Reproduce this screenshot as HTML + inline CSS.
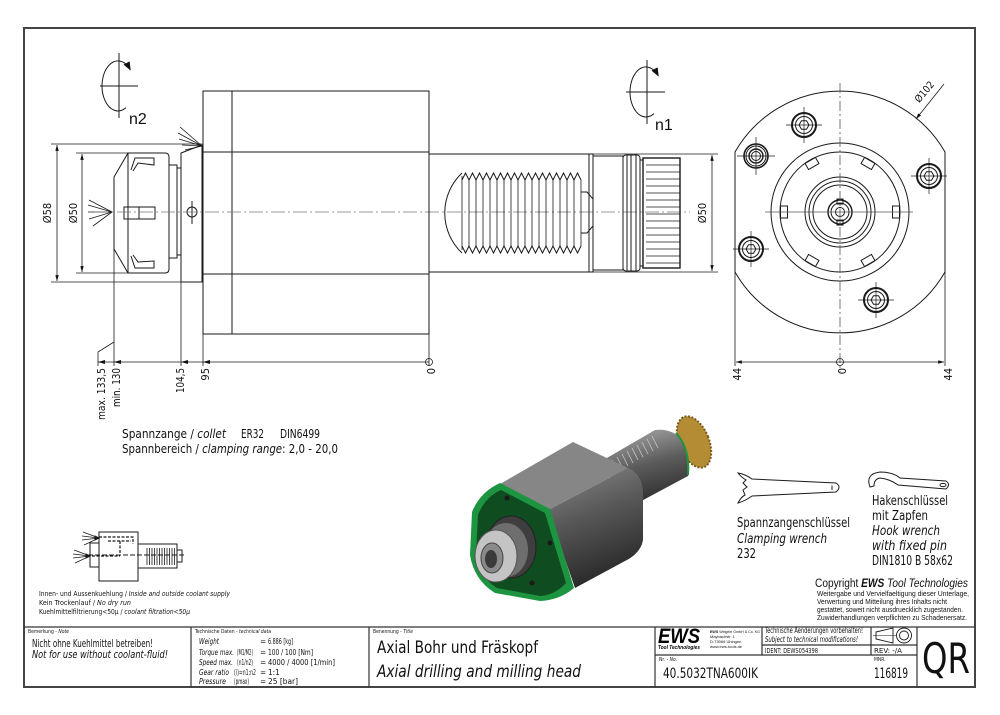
<!DOCTYPE html>
<html><head><meta charset="utf-8"><style>
html,body{margin:0;padding:0;background:#fff;}
svg{display:block}
.t{font-family:"DejaVu Sans Condensed","Liberation Sans Narrow","DejaVu Sans",sans-serif;fill:#111}
.l{font-family:"Liberation Sans",sans-serif;fill:#111}
.i{font-style:italic}
</style></head><body>
<svg width="1000" height="715" viewBox="0 0 1000 715" xmlns="http://www.w3.org/2000/svg">
<defs>
<marker id="a" viewBox="0 0 10 6" refX="10" refY="3" markerWidth="7" markerHeight="3.5" orient="auto-start-reverse" markerUnits="userSpaceOnUse"><path d="M0,0 L10,3 L0,6z" fill="#111"/></marker>
<marker id="r" viewBox="0 0 10 8" refX="9" refY="4" markerWidth="9" markerHeight="7" orient="auto" markerUnits="userSpaceOnUse"><path d="M0,0 L10,4 L0,8z" fill="#111"/></marker>
<linearGradient id="gbody" x1="0" y1="0" x2="0.3" y2="1"><stop offset="0" stop-color="#8a8a8a"/><stop offset="0.45" stop-color="#5a5a5a"/><stop offset="1" stop-color="#2a2a2a"/></linearGradient>
<linearGradient id="gshaft" x1="0.2" y1="0" x2="0.5" y2="1"><stop offset="0" stop-color="#a8a8a8"/><stop offset="0.5" stop-color="#5c5c5c"/><stop offset="1" stop-color="#2c2c2c"/></linearGradient>
</defs>
<rect width="1000" height="715" fill="#fff"/>

<!-- frame -->
<rect x="24" y="28" width="951" height="659" fill="none" stroke="#444" stroke-width="2"/>

<g fill="none" stroke="#1a1a1a" stroke-width="1">
<!-- n2 symbol -->
<line x1="119" y1="53" x2="119" y2="118"/>
<line x1="100" y1="86" x2="138" y2="86"/>
<path d="M126,107.6 A16,25 0 1 1 130.3,69.9" marker-end="url(#r)"/>
<!-- n1 symbol -->
<line x1="647" y1="60" x2="647" y2="124"/>
<line x1="626" y1="92" x2="665" y2="92"/>
<path d="M654,113.6 A16,25 0 1 1 658.3,75.9" marker-end="url(#r)"/>

<!-- body -->
<rect x="203" y="91" width="226" height="243"/>
<line x1="232" y1="91" x2="232" y2="334"/>
<line x1="203" y1="152" x2="429" y2="152"/>
<line x1="203" y1="274" x2="429" y2="274"/>
<!-- flange -->
<path d="M181,153 L202,145 L202,282 L181,282 Z"/>
<line x1="203" y1="148" x2="203" y2="276"/>
<!-- steps -->
<rect x="169" y="165" width="8" height="93"/>
<rect x="177" y="168" width="4" height="87"/>
<!-- collet nut -->
<path d="M128,153 L165,153 Q169,153 169,157 L169,269 Q169,273 165,273 L128,273 L114,249 L114,177 Z"/>
<line x1="128" y1="153" x2="128" y2="273"/>
<polyline points="131,170 135,158 154,158 154,165 138,163 133,171"/>
<polyline points="131,256 135,268 154,268 154,261 138,262 133,255"/>
<rect x="124" y="207" width="31" height="12"/>
<line x1="139" y1="207" x2="139" y2="219"/>
<circle cx="192" cy="212" r="5"/>
<line x1="192" y1="201" x2="192" y2="224"/>
<!-- sprays -->
<g stroke-width="0.8">
<line x1="112" y1="212" x2="89" y2="200"/><line x1="112" y1="212" x2="88" y2="205"/><line x1="112" y1="212" x2="88" y2="212"/><line x1="112" y1="212" x2="89" y2="219"/><line x1="112" y1="212" x2="93" y2="226"/>
<line x1="202" y1="146" x2="180" y2="127"/><line x1="202" y1="146" x2="178" y2="133"/><line x1="202" y1="146" x2="179" y2="139"/><line x1="202" y1="146" x2="182" y2="145"/><line x1="202" y1="146" x2="185" y2="150"/>
</g>
<!-- center line -->
<line x1="95" y1="212" x2="690" y2="212" stroke="#777" stroke-width="0.8" stroke-dasharray="14 3 2 3"/>

<!-- dims left -->
<line x1="51" y1="144" x2="202" y2="144" stroke-width="0.8"/>
<line x1="51" y1="282" x2="202" y2="282" stroke-width="0.8"/>
<line x1="57" y1="145" x2="57" y2="281" stroke-width="0.8" marker-start="url(#a)" marker-end="url(#a)"/>
<line x1="76" y1="153" x2="128" y2="153" stroke-width="0.8"/>
<line x1="76" y1="273" x2="128" y2="273" stroke-width="0.8"/>
<line x1="82" y1="154" x2="82" y2="272" stroke-width="0.8" marker-start="url(#a)" marker-end="url(#a)"/>

<!-- bottom dims left -->
<g stroke-width="0.8">
<line x1="98" y1="362" x2="429" y2="362"/>
<polyline points="98,366 98,352 114,342"/>
<line x1="114" y1="249" x2="114" y2="366"/>
<line x1="181" y1="282" x2="181" y2="366"/>
<line x1="203" y1="334" x2="203" y2="366"/>
<line x1="429" y1="334" x2="429" y2="366"/>
<circle cx="429" cy="362" r="3.5"/>
</g>
<g fill="#111" stroke="none">
<polygon points="98,362 105,360 105,364"/>
<polygon points="114,362 121,360 121,364"/>
<polygon points="181,362 188,360 188,364"/>
<polygon points="203,362 210,360 210,364"/>
</g>

<!-- shaft -->
<rect x="429" y="154" width="164" height="118"/>
<line x1="589" y1="154" x2="589" y2="272"/>
<rect x="593" y="156" width="30" height="114"/>
<rect x="623" y="155" width="17" height="116" rx="3"/>
<line x1="627" y1="155" x2="627" y2="271"/>
<line x1="631" y1="155" x2="631" y2="271"/>
<line x1="636" y1="155" x2="636" y2="271"/>
<rect x="640" y="160" width="3" height="106"/>
<rect x="643" y="158" width="37" height="110" stroke-width="1.4"/>
<g stroke-width="0.8">
<line x1="646" y1="165" x2="680" y2="165"/><line x1="646" y1="172" x2="680" y2="172"/><line x1="646" y1="179" x2="680" y2="179"/><line x1="646" y1="186" x2="680" y2="186"/><line x1="646" y1="193" x2="680" y2="193"/><line x1="646" y1="200" x2="680" y2="200"/><line x1="646" y1="207" x2="680" y2="207"/><line x1="646" y1="214" x2="680" y2="214"/><line x1="646" y1="221" x2="680" y2="221"/><line x1="646" y1="228" x2="680" y2="228"/><line x1="646" y1="235" x2="680" y2="235"/><line x1="646" y1="242" x2="680" y2="242"/><line x1="646" y1="249" x2="680" y2="249"/><line x1="646" y1="256" x2="680" y2="256"/><line x1="646" y1="263" x2="680" y2="263"/>
</g>
<!-- thread -->
<path d="M462,173 A55,55 0 0 0 462,253"/>
<polyline points="462,180 465.5,173 469,180 472.5,173 476,180 479.5,173 483,180 486.5,173 490,180 493.5,173 497,180 500.5,173 504,180 507.5,173 511,180 514.5,173 518,180 521.5,173 525,180 528.5,173 532,180 535.5,173 539,180 542.5,173 546,180 549.5,173 553,180 556.5,173 560,180 563.5,173 567,180 570.5,173 574,180 577.5,173 581,180"/>
<polyline points="462,246 465.5,253 469,246 472.5,253 476,246 479.5,253 483,246 486.5,253 490,246 493.5,253 497,246 500.5,253 504,246 507.5,253 511,246 514.5,253 518,246 521.5,253 525,246 528.5,253 532,246 535.5,253 539,246 542.5,253 546,246 549.5,253 553,246 556.5,253 560,246 563.5,253 567,246 570.5,253 574,246 577.5,253 581,246"/>
<g stroke-width="0.8">
<line x1="462" y1="176" x2="462" y2="250"/><line x1="469" y1="180" x2="469" y2="246"/><line x1="476" y1="180" x2="476" y2="246"/><line x1="483" y1="180" x2="483" y2="246"/><line x1="490" y1="180" x2="490" y2="246"/><line x1="497" y1="180" x2="497" y2="246"/><line x1="504" y1="180" x2="504" y2="246"/><line x1="511" y1="180" x2="511" y2="246"/><line x1="518" y1="180" x2="518" y2="246"/><line x1="525" y1="180" x2="525" y2="246"/><line x1="532" y1="180" x2="532" y2="246"/><line x1="539" y1="180" x2="539" y2="246"/><line x1="546" y1="180" x2="546" y2="246"/><line x1="553" y1="180" x2="553" y2="246"/><line x1="560" y1="180" x2="560" y2="246"/><line x1="567" y1="180" x2="567" y2="246"/><line x1="574" y1="180" x2="574" y2="246"/><line x1="581" y1="180" x2="581" y2="246"/>
</g>
<path d="M581,192 L587,192 L593,199 L593,226 L587,233 L581,233"/>
<!-- dim shaft -->
<line x1="593" y1="154" x2="718" y2="154" stroke-width="0.8"/>
<line x1="593" y1="272" x2="718" y2="272" stroke-width="0.8"/>
<line x1="712" y1="155" x2="712" y2="271" stroke-width="0.8" marker-start="url(#a)" marker-end="url(#a)"/>

<!-- right view -->
<path d="M735,152 A121,121 0 0 1 945,152 L945,272 A121,121 0 0 1 735,272 Z"/>
<circle cx="840" cy="212" r="69"/>
<circle cx="840" cy="212" r="60"/>
<circle cx="840" cy="212" r="35"/>
<circle cx="840" cy="212" r="31"/>
<circle cx="840" cy="212" r="27"/>
<circle cx="840" cy="212" r="12" stroke-width="1.4"/>
<circle cx="840" cy="212" r="9"/>
<circle cx="840" cy="212" r="4.5"/>
<rect x="837" y="199" width="6" height="5"/>
<rect x="837" y="220" width="6" height="5"/>
<g>
<rect x="892.5" y="206" width="7" height="12" transform="rotate(0 840 212)"/>
<rect x="892.5" y="206" width="7" height="12" transform="rotate(60 840 212)"/>
<rect x="892.5" y="206" width="7" height="12" transform="rotate(120 840 212)"/>
<rect x="892.5" y="206" width="7" height="12" transform="rotate(180 840 212)"/>
<rect x="892.5" y="206" width="7" height="12" transform="rotate(240 840 212)"/>
<rect x="892.5" y="206" width="7" height="12" transform="rotate(300 840 212)"/>
</g>
<line x1="840" y1="83" x2="840" y2="372" stroke="#555" stroke-width="0.8" stroke-dasharray="10 3 2 3"/>
<line x1="765" y1="212" x2="913" y2="212" stroke="#555" stroke-width="0.8"/>
<!-- bolts -->
<g id="bolt" transform="translate(804,125)">
<circle r="12" stroke-width="2"/><circle r="8.5"/>
<polygon points="5,0 2.5,4.3 -2.5,4.3 -5,0 -2.5,-4.3 2.5,-4.3"/>
<line x1="-18" y1="0" x2="18" y2="0" stroke-width="0.7"/><line x1="0" y1="-18" x2="0" y2="18" stroke-width="0.7"/>
</g>
<use href="#bolt" transform="translate(125,51)"/>
<use href="#bolt" transform="translate(-53,124)"/>
<use href="#bolt" transform="translate(72,175)"/>
<g transform="translate(756,156)">
<circle r="12" stroke-width="1.6"/><circle r="10" stroke-width="1"/><circle r="7" stroke-width="1.4"/><circle r="4.5"/>
<line x1="-19" y1="0" x2="19" y2="0" stroke-width="0.7"/><line x1="0" y1="-19" x2="0" y2="19" stroke-width="0.7"/>
</g>
<!-- Ø102 leader -->
<line x1="916" y1="119" x2="944" y2="84" stroke-width="0.8" marker-start="url(#a)"/>
<!-- right bottom dims -->
<g stroke-width="0.8">
<line x1="735" y1="272" x2="735" y2="366"/>
<line x1="945" y1="272" x2="945" y2="366"/>
<line x1="736" y1="362" x2="944" y2="362" marker-start="url(#a)" marker-end="url(#a)"/>
<circle cx="840" cy="362" r="3.5"/>
</g>

<!-- coolant mini diagram -->
<rect x="99" y="532" width="39" height="49"/>
<rect x="90" y="543" width="9" height="24"/>
<rect x="138" y="544" width="39" height="24"/>
<rect x="177" y="550" width="5" height="12"/>
<g stroke-width="0.8">
<line x1="147" y1="548" x2="147" y2="565"/><line x1="149.5" y1="548" x2="149.5" y2="565"/><line x1="152" y1="548" x2="152" y2="565"/><line x1="154.5" y1="548" x2="154.5" y2="565"/><line x1="157" y1="548" x2="157" y2="565"/><line x1="159.5" y1="548" x2="159.5" y2="565"/><line x1="162" y1="548" x2="162" y2="565"/><line x1="164.5" y1="548" x2="164.5" y2="565"/><line x1="167" y1="548" x2="167" y2="565"/><line x1="169.5" y1="548" x2="169.5" y2="565"/><line x1="172" y1="548" x2="172" y2="565"/><line x1="174.5" y1="548" x2="174.5" y2="565"/>
</g>
<line x1="88" y1="555" x2="186" y2="555" stroke-dasharray="5 2"/>
<path d="M99,537 H133 V544 M108,541 H131 M120,541 V555 M92,556 H120" stroke-dasharray="3 1.5" stroke-width="1.2"/>
<g stroke-width="0.7">
<line x1="99" y1="538" x2="83" y2="532"/><line x1="99" y1="538" x2="82" y2="536"/><line x1="99" y1="538" x2="82" y2="540"/><line x1="99" y1="538" x2="84" y2="545"/>
<line x1="90" y1="556" x2="74" y2="550"/><line x1="90" y1="556" x2="73" y2="554"/><line x1="90" y1="556" x2="73" y2="558"/><line x1="90" y1="556" x2="75" y2="563"/>
</g>
<polygon points="99,538 95,536 95,540" fill="#111"/>
<polygon points="90,556 86,554 86,558" fill="#111"/>

<!-- wrenches -->
<path d="M738,473 Q745,474 752,479 L836,483 Q842,487 836,492 L752,496 Q745,501 738,503 Q741,497 745,495 L743,490 L747,487 L743,483 L746,480 Q741,477 738,473 Z"/>
<line x1="832" y1="485.5" x2="832" y2="490"/>
<path d="M870,487 Q865,474 880,472 Q893,472 900,478 L946,481 Q951,484.5 946,489 L898,485 Q890,479 880,478 Q874,479 874,486 Z"/>
<ellipse cx="943" cy="485" rx="3" ry="1.6"/>

<!-- title block -->
<g stroke="#333" stroke-width="1.2">
<line x1="24" y1="627" x2="975" y2="627"/>
<line x1="191" y1="627" x2="191" y2="687"/>
<line x1="369" y1="627" x2="369" y2="687"/>
<line x1="655" y1="627" x2="655" y2="687"/>
<line x1="917" y1="627" x2="917" y2="687"/>
<line x1="762" y1="627" x2="762" y2="655"/>
<line x1="871" y1="627" x2="871" y2="655"/>
<line x1="655" y1="655" x2="917" y2="655"/>
<line x1="762" y1="645" x2="917" y2="645"/>
</g>
<!-- projection symbol -->
<path d="M876,632 L893,628 L893,643 L876,639 Z" stroke-width="0.9"/>
<line x1="873" y1="635.5" x2="896" y2="635.5" stroke-width="0.6"/>
<circle cx="904" cy="635.5" r="7.5" stroke-width="0.9"/>
<circle cx="904" cy="635.5" r="4.5" stroke-width="0.9"/>
</g>

<!-- 3D render -->
<g>
<ellipse cx="694" cy="442" rx="15" ry="27" transform="rotate(-22 694 442)" fill="#b48c34" stroke="#7a5a1a" stroke-width="2" stroke-dasharray="2 1.5"/>
<path d="M600,462 L655,430 Q672,428 682,440 Q692,458 688,476 L632,506 Z" fill="url(#gshaft)"/>
<path d="M676,433 Q690,448 688,475" fill="none" stroke="#1d9440" stroke-width="2"/>
<g stroke="#c8c8c8" stroke-width="0.8">
<line x1="612" y1="460" x2="618" y2="472"/><line x1="617" y1="457" x2="623" y2="469"/><line x1="622" y1="454" x2="628" y2="466"/><line x1="627" y1="451" x2="633" y2="463"/><line x1="632" y1="448" x2="638" y2="460"/><line x1="637" y1="445" x2="643" y2="457"/><line x1="642" y1="442" x2="648" y2="454"/><line x1="647" y1="439" x2="653" y2="451"/><line x1="652" y1="436" x2="658" y2="448"/>
</g>
<path d="M548,510 L628,468 Q642,474 643,492 L643,540 Q641,553 625,561 L575,588 Z" fill="url(#gbody)"/>
<path d="M500,484 L573,442 L628,468 L548,510 Z" fill="#868686"/>
<path d="M500,483 L550,509 L574,588 Q560,600 540,601 L495,593 Q474,580 470,555 L472,512 Q480,492 500,483 Z" fill="#1d9440"/>
<path d="M501,490 L545,513 L566,583 Q555,595 540,596 L497,588 Q479,577 476,554 L478,515 Q485,497 501,490 Z" fill="#0f4c20"/>
<g fill="#1a1a1a"><circle cx="507" cy="498" r="2.5"/><circle cx="550" cy="543" r="2.5"/><circle cx="532" cy="583" r="2.5"/></g>
<ellipse cx="511" cy="547" rx="25" ry="31" fill="#3e3e3e" stroke="#222"/>
<ellipse cx="506" cy="550" rx="22" ry="27" fill="#6e6e6e"/>
<ellipse cx="496" cy="556" rx="21" ry="26" fill="#c4c4c4" stroke="#555"/>
<ellipse cx="492" cy="558" rx="11" ry="15" fill="#8a8a8a" stroke="#444"/>
<ellipse cx="491" cy="559" rx="6" ry="9" fill="#3a3a3a"/>
</g>

<!-- TEXT -->
<text x="129" y="124" class="l" font-size="16">n2</text>
<text x="655" y="130" class="l" font-size="16">n1</text>
<text class="t" font-size="11" text-anchor="middle" transform="translate(51,213) rotate(-90)">Ø58</text>
<text class="t" font-size="11" text-anchor="middle" transform="translate(77,213) rotate(-90)">Ø50</text>
<text class="t" font-size="11" text-anchor="middle" transform="translate(706,213) rotate(-90)">Ø50</text>
<text class="t" font-size="10" text-anchor="middle" transform="translate(927,94) rotate(-50)">Ø102</text>
<text class="t" font-size="11" text-anchor="end" textLength="52" lengthAdjust="spacingAndGlyphs" transform="translate(105,368) rotate(-90)">max. 133,5</text>
<text class="t" font-size="11" text-anchor="end" textLength="39" lengthAdjust="spacingAndGlyphs" transform="translate(120,368) rotate(-90)">min. 130</text>
<text class="t" font-size="11" text-anchor="end" textLength="25" lengthAdjust="spacingAndGlyphs" transform="translate(184,368) rotate(-90)">104,5</text>
<text class="t" font-size="11" text-anchor="end" transform="translate(209,368) rotate(-90)">95</text>
<text class="t" font-size="11" text-anchor="end" transform="translate(435,368) rotate(-90)">0</text>
<text class="t" font-size="11" text-anchor="end" transform="translate(741,368) rotate(-90)">44</text>
<text class="t" font-size="11" text-anchor="end" transform="translate(846,368) rotate(-90)">0</text>
<text class="t" font-size="11" text-anchor="end" transform="translate(952,368) rotate(-90)">44</text>

<text x="122" y="438" class="t" font-size="12.5" textLength="104" lengthAdjust="spacingAndGlyphs">Spannzange / <tspan class="i">collet</tspan></text>
<text x="241" y="438" class="t" font-size="12.5" textLength="23" lengthAdjust="spacingAndGlyphs">ER32</text>
<text x="280" y="438" class="t" font-size="12.5" textLength="40" lengthAdjust="spacingAndGlyphs">DIN6499</text>
<text x="122" y="453" class="t" font-size="12.5" textLength="216" lengthAdjust="spacingAndGlyphs">Spannbereich / <tspan class="i">clamping range</tspan>: 2,0 - 20,0</text>

<text x="39" y="596" class="t" font-size="7" textLength="191" lengthAdjust="spacingAndGlyphs">Innen- und Aussenkuehlung / <tspan class="i">Inside and outside coolant supply</tspan></text>
<text x="39" y="605" class="t" font-size="7" textLength="92" lengthAdjust="spacingAndGlyphs">Kein Trockenlauf / <tspan class="i">No dry run</tspan></text>
<text x="39" y="614" class="t" font-size="7" textLength="151" lengthAdjust="spacingAndGlyphs">Kuehlmittelfiltrierung&lt;50µ / <tspan class="i">coolant filtration&lt;50µ</tspan></text>

<text x="737" y="527" class="t" font-size="13" textLength="113" lengthAdjust="spacingAndGlyphs">Spannzangenschlüssel</text>
<text x="737" y="543" class="t i" font-size="13" textLength="90" lengthAdjust="spacingAndGlyphs">Clamping wrench</text>
<text x="737" y="558" class="t" font-size="13" textLength="19" lengthAdjust="spacingAndGlyphs">232</text>
<text x="872" y="505" class="t" font-size="13" textLength="76" lengthAdjust="spacingAndGlyphs">Hakenschlüssel</text>
<text x="872" y="520" class="t" font-size="13" textLength="56" lengthAdjust="spacingAndGlyphs">mit Zapfen</text>
<text x="872" y="535" class="t i" font-size="13" textLength="68" lengthAdjust="spacingAndGlyphs">Hook wrench</text>
<text x="872" y="550" class="t i" font-size="13" textLength="75" lengthAdjust="spacingAndGlyphs">with fixed pin</text>
<text x="872" y="565" class="t" font-size="13" textLength="81" lengthAdjust="spacingAndGlyphs">DIN1810 B 58x62</text>

<text x="815" y="587" class="l" font-size="11.5" textLength="153" lengthAdjust="spacingAndGlyphs">Copyright <tspan font-weight="bold" font-style="italic">EWS</tspan><tspan font-style="italic"> Tool Technologies</tspan></text>
<text x="817" y="596" class="l" font-size="7.5" textLength="152" lengthAdjust="spacingAndGlyphs">Weitergabe und Vervielfaeltigung dieser Unterlage,</text>
<text x="817" y="604" class="l" font-size="7.5" textLength="130" lengthAdjust="spacingAndGlyphs">Verwertung und Mitteilung ihres Inhalts nicht</text>
<text x="817" y="612" class="l" font-size="7.5" textLength="146" lengthAdjust="spacingAndGlyphs">gestattet, soweit nicht ausdruecklich zugestanden.</text>
<text x="817" y="620" class="l" font-size="7.5" textLength="150" lengthAdjust="spacingAndGlyphs">Zuwiderhandlungen verpflichten zu Schadenersatz.</text>

<!-- title block text -->
<text x="28" y="633" class="t" font-size="5">Bemerkung - <tspan class="i">Note</tspan></text>
<text x="32" y="647" class="t" font-size="11" textLength="121" lengthAdjust="spacingAndGlyphs">Nicht ohne Kuehlmittel betreiben!</text>
<text x="32" y="658" class="t i" font-size="11" textLength="136" lengthAdjust="spacingAndGlyphs">Not for use without coolant-fluid!</text>
<text x="195" y="633" class="t" font-size="5">Technische Daten - <tspan class="i">technical data</tspan></text>
<g class="t" font-size="8.2">
<text x="199" y="644" class="i" textLength="20" lengthAdjust="spacingAndGlyphs">Weight</text>
<text x="260" y="644">=</text><text x="268" y="644" textLength="25" lengthAdjust="spacingAndGlyphs">6.886 [kg]</text>
<text x="199" y="655" class="i" textLength="35" lengthAdjust="spacingAndGlyphs">Torque max.</text>
<text x="237" y="655" textLength="16" lengthAdjust="spacingAndGlyphs">(M1/M2)</text>
<text x="260" y="655">=</text><text x="268" y="655" textLength="45" lengthAdjust="spacingAndGlyphs">100 / 100 [Nm]</text>
<text x="199" y="665" class="i" textLength="34" lengthAdjust="spacingAndGlyphs">Speed max.</text>
<text x="237" y="665" textLength="16" lengthAdjust="spacingAndGlyphs">(n1/n2)</text>
<text x="260" y="665">=</text><text x="268" y="665" textLength="67" lengthAdjust="spacingAndGlyphs">4000 / 4000 [1/min]</text>
<text x="199" y="675" class="i" textLength="30" lengthAdjust="spacingAndGlyphs">Gear ratio</text>
<text x="234" y="675" textLength="22" lengthAdjust="spacingAndGlyphs">(i)=n1:n2</text>
<text x="260" y="675">=</text><text x="268" y="675">1:1</text>
<text x="199" y="684" class="i" textLength="27" lengthAdjust="spacingAndGlyphs">Pressure</text>
<text x="234" y="684" textLength="15" lengthAdjust="spacingAndGlyphs">(pmax)</text>
<text x="260" y="684">=</text><text x="268" y="684" textLength="30" lengthAdjust="spacingAndGlyphs">25 [bar]</text>
</g>
<text x="373" y="633" class="t" font-size="5">Benennung - <tspan class="i">Title</tspan></text>
<text x="377" y="653" class="t" font-size="17" textLength="161" lengthAdjust="spacingAndGlyphs">Axial Bohr und Fräskopf</text>
<text x="377" y="677" class="t i" font-size="17" textLength="204" lengthAdjust="spacingAndGlyphs">Axial drilling and milling head</text>

<text x="658" y="643" font-family="Liberation Sans,sans-serif" font-weight="bold" font-style="italic" font-size="21" textLength="42" lengthAdjust="spacingAndGlyphs" fill="#000">EWS</text>
<text x="658" y="649" font-family="Liberation Sans,sans-serif" font-weight="bold" font-style="italic" font-size="5.5" textLength="42" lengthAdjust="spacingAndGlyphs" fill="#000">Tool Technologies</text>
<g class="l" font-size="4">
<text x="710" y="633" textLength="50" lengthAdjust="spacingAndGlyphs"><tspan font-weight="bold">EWS</tspan> Weigele GmbH &amp; Co. KG</text>
<text x="710" y="638">Maybachstr. 1</text>
<text x="710" y="643">D-73066 Uhingen</text>
<text x="710" y="648">www.ews-tools.de</text>
</g>
<text x="765" y="633" class="t" font-size="7.5" textLength="98" lengthAdjust="spacingAndGlyphs">Technische Aenderungen vorbehalten!</text>
<text x="765" y="642" class="t i" font-size="7.5" textLength="93" lengthAdjust="spacingAndGlyphs">Subject to technical modifications!</text>
<text x="765" y="653" class="t" font-size="7" textLength="53" lengthAdjust="spacingAndGlyphs">IDENT:  DEWS054398</text>
<text x="874" y="653" class="t" font-size="7" textLength="28" lengthAdjust="spacingAndGlyphs">REV:  -/A</text>
<text x="659" y="661" class="t" font-size="5">Nr. - <tspan class="i">No.</tspan></text>
<text x="874" y="661" class="t" font-size="5">MNR.</text>
<text x="663" y="678" class="t" font-size="14" textLength="95" lengthAdjust="spacingAndGlyphs">40.5032TNA600IK</text>
<text x="874" y="678" class="t" font-size="14" textLength="34" lengthAdjust="spacingAndGlyphs">116819</text>
<text x="922" y="673" class="t" font-size="42" textLength="48" lengthAdjust="spacingAndGlyphs">QR</text>
</svg>
</body></html>
